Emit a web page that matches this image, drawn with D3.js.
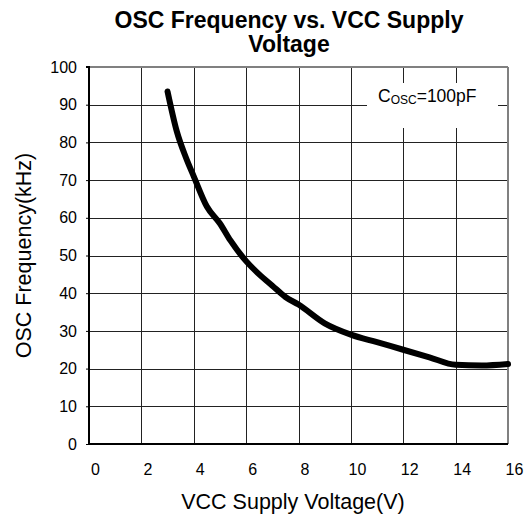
<!DOCTYPE html>
<html>
<head>
<meta charset="utf-8">
<script src="https://cdn.jsdelivr.net/npm/d3@7"></script>
<style>
  html, body { margin: 0; padding: 0; background: #fff; }
  svg { display: block; font-family: "Liberation Sans", Arial, sans-serif; }
</style>
</head>
<body>
<svg id="chart" width="531" height="516"></svg>
<script>
const titleLines = ["OSC Frequency vs. VCC Supply", "Voltage"];
const xLabel = "VCC Supply Voltage(V)";
const yLabel = "OSC Frequency(kHz)";
const xTicks = [0, 2, 4, 6, 8, 10, 12, 14, 16];
const yTicks = [0, 10, 20, 30, 40, 50, 60, 70, 80, 90, 100];
const voltage = [3.0, 3.35, 3.7, 4.0, 4.5, 5.0, 5.4, 6.0, 6.5, 7.0, 7.5, 8.0, 9.0, 10.0, 11.0, 12.0, 13.0, 14.0, 15.0, 16.0];
const frequency = [93.5, 83, 76, 71, 63, 58.5, 54, 48.5, 45, 42, 39, 37, 32, 29, 27, 25, 23, 21, 20.8, 21.2];

const svg = d3.select("#chart");
const W = 531, H = 516;
const m = { left: 89, right: 23, top: 67, bottom: 72 };
const x = d3.scaleLinear().domain([0, 16]).range([m.left, W - m.right]);
const y = d3.scaleLinear().domain([0, 100]).range([H - m.bottom, m.top]);

// title
const title = svg.append("text").attr("text-anchor", "middle")
  .attr("font-size", 23).attr("font-weight", "bold").attr("fill", "#000");
titleLines.forEach((t, i) => title.append("tspan").attr("x", 289).attr("y", 28 + i * 24).text(t));

// gridlines
const g = svg.append("g").attr("shape-rendering", "crispEdges");
g.selectAll(".vg").data(xTicks.slice(1, -1)).join("line")
  .attr("x1", d => Math.round(x(d)) + 0.5).attr("x2", d => Math.round(x(d)) + 0.5)
  .attr("y1", y(100)).attr("y2", y(0)).attr("stroke", "#222").attr("stroke-width", 1);
g.selectAll(".hg").data(yTicks.slice(1, -1)).join("line")
  .attr("y1", d => Math.round(y(d)) + 0.5).attr("y2", d => Math.round(y(d)) + 0.5)
  .attr("x1", x(0)).attr("x2", x(16)).attr("stroke", "#222").attr("stroke-width", 1);

// annotation box (white background)
svg.append("rect").attr("x", 367).attr("y", 83).attr("width", 131).attr("height", 45).attr("fill", "#fff");
const ann = svg.append("text").attr("x", 378).attr("y", 102).attr("font-size", 17.5).attr("fill", "#000");
ann.append("tspan").text("C");
ann.append("tspan").attr("font-size", 12).attr("dy", 2).text("OSC");
ann.append("tspan").attr("dy", -2).text("=100pF");

// frame
svg.append("line").attr("x1", x(0)).attr("x2", x(16)).attr("y1", y(100)).attr("y2", y(100))
  .attr("stroke", "#808080").attr("stroke-width", 2);
svg.append("line").attr("x1", x(16)).attr("x2", x(16)).attr("y1", y(100)).attr("y2", y(0))
  .attr("stroke", "#808080").attr("stroke-width", 2);

// axes
const yAxis = d3.axisLeft(y).tickValues(yTicks).tickSize(3).tickPadding(9);
const ya = svg.append("g").attr("transform", `translate(${x(0)},0)`).call(yAxis);
const xAxis = d3.axisBottom(x).tickValues(xTicks).tickSize(0).tickPadding(20);
const xa = svg.append("g").attr("transform", `translate(0,${y(0)})`).call(xAxis);
[ya, xa].forEach(a => {
  a.select(".domain").attr("stroke", "#000").attr("stroke-width", 2);
  a.selectAll(".tick line").attr("stroke", "#000");
  a.selectAll(".tick text").attr("font-size", 16).attr("fill", "#000")
    .attr("font-family", "Liberation Sans, Arial, sans-serif");
});
xa.selectAll(".tick text").attr("dx", 6);
ya.select(".domain").attr("d", `M-3,${y(100)}H0V${y(0)}`);
xa.select(".domain").attr("d", `M${x(0)},0H${x(16)}`);

// curve
svg.append("path").datum(voltage.map((v, i) => [v, frequency[i]]))
  .attr("fill", "none").attr("stroke", "#000").attr("stroke-width", 6)
  .attr("stroke-linecap", "round").attr("stroke-linejoin", "round")
  .attr("d", d3.line().x(d => x(d[0])).y(d => y(d[1])).curve(d3.curveMonotoneX));

// axis labels
svg.append("text").attr("x", 293).attr("y", 509).attr("text-anchor", "middle")
  .attr("font-size", 21.5).attr("fill", "#000").text(xLabel);
svg.append("text").attr("transform", `translate(31,${(y(0) + y(100)) / 2}) rotate(-90)`)
  .attr("text-anchor", "middle").attr("font-size", 21.5).attr("fill", "#000").text(yLabel);
</script>
</body>
</html>
